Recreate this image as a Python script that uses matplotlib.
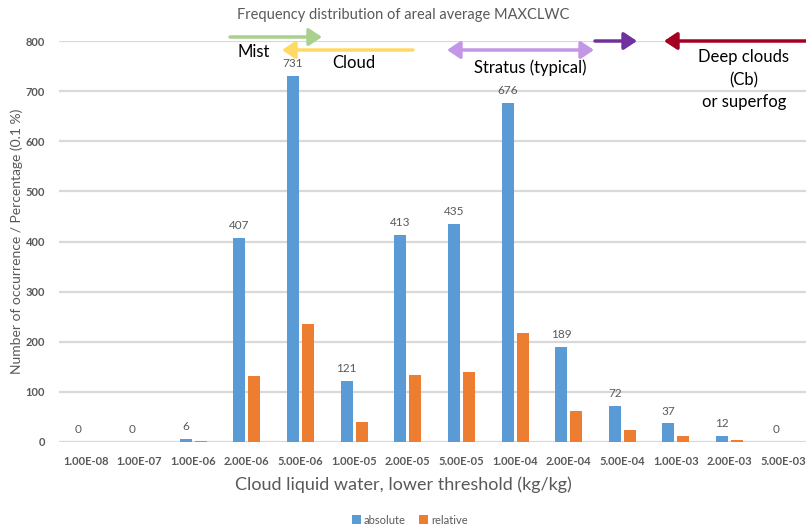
import matplotlib
matplotlib.use('Agg')
import matplotlib.pyplot as plt
import numpy as np

# ---- data ----
categories = ['1.00E-08', '1.00E-07', '1.00E-06', '2.00E-06', '5.00E-06', '1.00E-05', '2.00E-05',
              '5.00E-05', '1.00E-04', '2.00E-04', '5.00E-04', '1.00E-03', '2.00E-03', '5.00E-03']
absolute = [0, 0, 6, 407, 731, 121, 413, 435, 676, 189, 72, 37, 12, 0]
relative = [0, 0, 2, 131, 236, 39, 133, 140, 218, 61, 23, 12, 4, 0]

BLUE = '#5B9BD5'
ORANGE = '#ED7D31'
GREY = '#595959'

plt.rcParams['font.family'] = ['Lato', 'DejaVu Sans']

W, H = 806, 531
fig = plt.figure(figsize=(W / 100, H / 100), dpi=100)

def px(x, y):
    # pixel position in the picture -> figure fraction
    return (x / W, 1 - y / H)

# plot area
left, right, top, bottom = 59, 806, 41, 442
ax = fig.add_axes([left / W, (H - bottom) / H, (right - left) / W, (bottom - top) / H])

x = np.arange(len(categories))
step = 53.65
bw = 12 / step
off = 7.5 / step
ax.bar(x - off, absolute, bw, color=BLUE, label='absolute', zorder=3)
ax.bar(x + off, relative, bw, color=ORANGE, label='relative', zorder=3)

for xi, v in zip(x, absolute):
    ax.annotate(str(v), (xi - off, v), xytext=(0, 5), textcoords='offset points',
                ha='center', va='bottom', fontsize=8.5, color=GREY)

ax.set_ylim(0, 800)
ax.set_xlim(-0.5, -0.5 + (right - left) / step)
ax.set_yticks(range(0, 801, 100))
ax.set_xticks(x)
ax.set_xticklabels(categories)
ax.grid(axis='y', color='#D9D9D9', linewidth=1.6, zorder=0)
ax.set_axisbelow(True)
for s in ax.spines.values():
    s.set_visible(False)
ax.tick_params(length=0, labelsize=8, labelcolor=GREY, pad=6)
for lab in ax.get_xticklabels() + ax.get_yticklabels():
    lab.set_fontweight('bold')
ax.tick_params(axis='x', pad=10)
ax.tick_params(axis='y', pad=10)

ax.set_ylabel('Number of occurrence / Percentage (0.1 %)', fontsize=10, color=GREY, labelpad=2)
fig.text(*px(403, 485), 'Cloud liquid water, lower threshold (kg/kg)', fontsize=13,
         color=GREY, ha='center', va='center')
fig.text(*px(403, 15), 'Frequency distribution of areal average MAXCLWC', fontsize=10.5,
         color=GREY, ha='center', va='center')

fig.legend(loc='center', bbox_to_anchor=px(410, 520), ncol=2, frameon=False, fontsize=8,
           handlelength=0.8, handleheight=0.8, handletextpad=0.3, columnspacing=1.2,
           labelcolor=GREY)

# annotation arrows over the top of the chart
def arrow(x0, y0, x1, y1, color, style='-|>'):
    fig.add_artist(matplotlib.patches.FancyArrowPatch(
        px(x0, y0), px(x1, y1), transform=fig.transFigure,
        arrowstyle=style + ',head_length=6,head_width=4', color=color, lw=2.5,
        mutation_scale=1.3, shrinkA=0, shrinkB=0))

arrow(230, 37, 322, 37, '#A9D18E')
arrow(413, 50, 282, 50, '#FFD966')
arrow(447, 50, 594, 50, '#C497E6', style='<|-|>')
arrow(595, 41, 637, 41, '#7030A0')
arrow(806, 41, 664, 41, '#A50021')

fig.text(*px(254, 52), 'Mist', fontsize=12, ha='center', va='center', color='black')
fig.text(*px(354, 63), 'Cloud', fontsize=12, ha='center', va='center', color='black')
fig.text(*px(530, 68), 'Stratus (typical)', fontsize=12, ha='center', va='center', color='black')
fig.text(*px(744, 57), 'Deep clouds', fontsize=12, ha='center', va='center', color='black')
fig.text(*px(744, 80), '(Cb)', fontsize=12, ha='center', va='center', color='black')
fig.text(*px(744, 102), 'or superfog', fontsize=12, ha='center', va='center', color='black')

fig.savefig('out.png', dpi=100)
